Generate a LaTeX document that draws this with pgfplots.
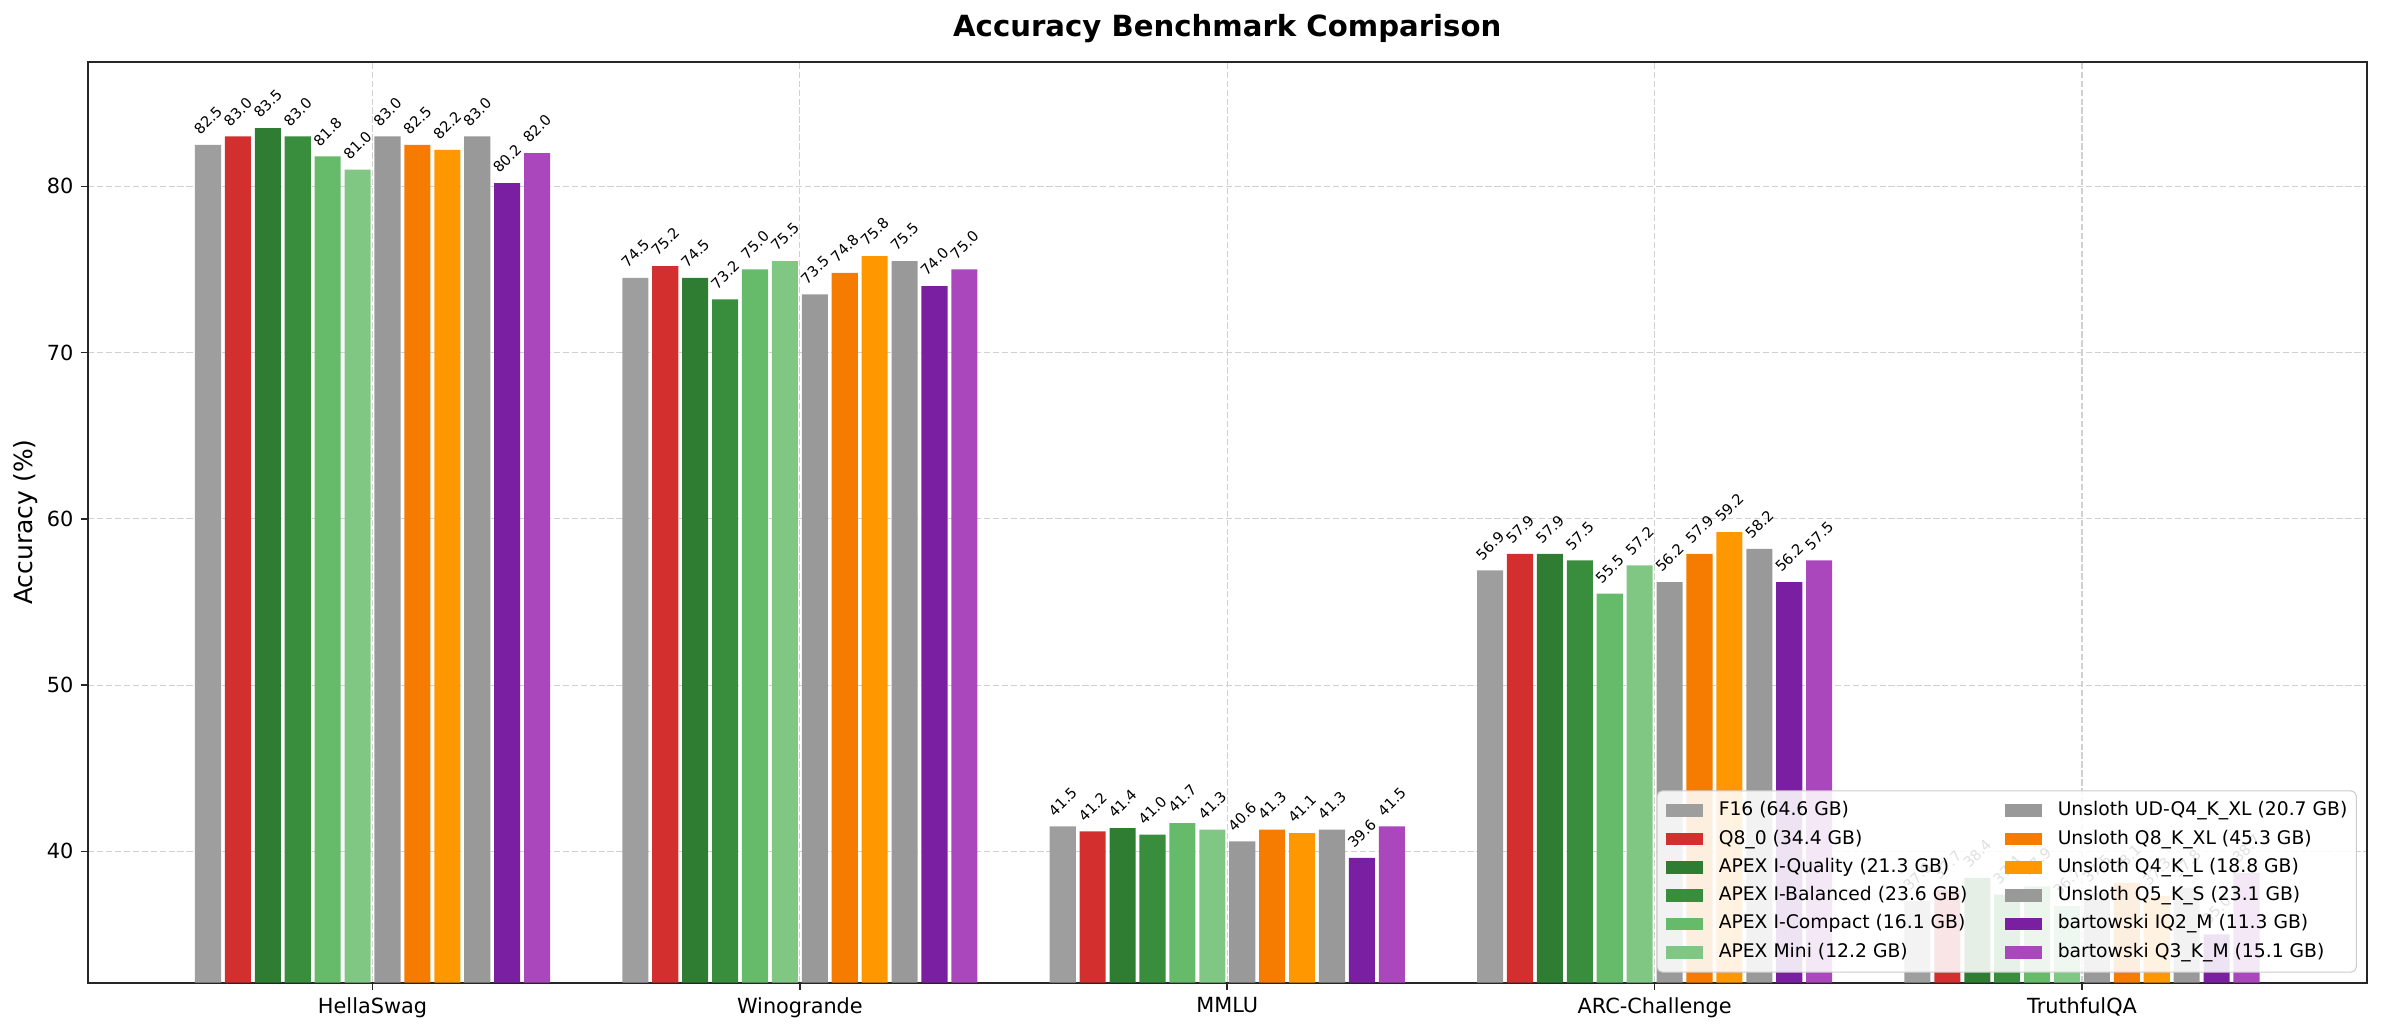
\documentclass[border=0pt]{standalone}
\usepackage{fontspec}
\setmainfont{DejaVu Sans}
\usepackage{graphicx}
\usepackage{pgfplots}
\usepackage{pgfplotstable}
\pgfplotsset{compat=1.18}

\definecolor{cF16}{HTML}{9E9E9E}
\definecolor{cQ80}{HTML}{D32F2F}
\definecolor{cIQ}{HTML}{2E7D32}
\definecolor{cIB}{HTML}{388E3C}
\definecolor{cIC}{HTML}{66BB6A}
\definecolor{cMini}{HTML}{81C784}
\definecolor{cUDQ}{HTML}{999999}
\definecolor{cQ8K}{HTML}{F57C00}
\definecolor{cQ4K}{HTML}{FF9800}
\definecolor{cQ5K}{HTML}{999999}
\definecolor{cIQ2}{HTML}{7B1FA2}
\definecolor{cQ3K}{HTML}{AB47BC}

\pgfplotstableread{
x F16  Q80  IQ   IB   IC   Mini UDQ  Q8K  Q4K  Q5K  IQ2  Q3K
0 82.5 83.0 83.5 83.0 81.8 81.0 83.0 82.5 82.2 83.0 80.2 82.0
1 74.5 75.2 74.5 73.2 75.0 75.5 73.5 74.8 75.8 75.5 74.0 75.0
2 41.5 41.2 41.4 41.0 41.7 41.3 40.6 41.3 41.1 41.3 39.6 41.5
3 56.9 57.9 57.9 57.5 55.5 57.2 56.2 57.9 59.2 58.2 56.2 57.5
4 37.0 37.7 38.4 37.4 37.9 36.7 37.5 38.1 37.3 37.8 35.0 38.7
}\datatable

\begin{document}
\begin{tikzpicture}
\begin{axis}[
  scale only axis, width=1093.8pt, height=442.1pt,
  ybar, bar width=0.061,
  xmin=-0.666, xmax=4.666, ymin=32.1, ymax=87.5,
  xtick={0,1,2,3,4},
  xticklabels={HellaSwag,Winogrande,MMLU,ARC-Challenge,TruthfulQA},
  ytick={40,50,60,70,80},
  tick pos=left, tick align=outside, major tick length=3.5pt,
  tick style={black!85, line width=0.8pt},
  axis line style={black!85, line width=1pt},
  grid=major,
  major grid style={black!18, line width=0.5pt, dash pattern=on 3pt off 1.3pt},
  /pgf/number format/assume math mode=true,
  tick label style={font=\fontsize{10}{12}\selectfont},
  ylabel={Accuracy (\%)},
  every axis y label/.style={font=\fontsize{12}{14}\selectfont, at={(axis description cs:-0.0275,0.5)}, rotate=90, anchor=center},
  title={Accuracy Benchmark Comparison},
  every axis title/.style={font=\bfseries\fontsize{14}{16}\selectfont, at={(axis description cs:0.5,1)}, anchor=base, yshift=12.1pt},
  nodes near coords={\rotatebox{45}{\pgfmathprintnumber[fixed,fixed zerofill,precision=1]{\pgfplotspointmeta}}},
  every node near coord/.append style={anchor=south, inner sep=0pt, yshift=4.2pt, font=\fontsize{7}{8}\selectfont, text=black},
  legend columns=2,
  legend cell align=left,
  legend image code/.code={\fill[#1, sharp corners, fill opacity=1, draw=none] (0pt,-3pt) rectangle (17.8pt,3pt);},
  legend style={at={(axis description cs:0.9957,0.0109)}, anchor=south east,
    draw=black!20, line width=0.5pt, rounded corners=2.5pt,
    fill=white, fill opacity=0.88, draw opacity=1, text opacity=1,
    font=\fontsize{9}{10.8}\selectfont,
    inner xsep=4.3pt, inner ysep=5.1pt, row sep=4.8pt,
    nodes={inner sep=0pt, text height=6.8pt, text depth=2pt},
    /tikz/every odd column/.append style={column sep=7.5pt},
    /tikz/every even column/.append style={column sep=18pt}},
]
\addplot[fill=cF16, draw=none, bar shift=-0.385] table[x=x,y=F16]{\datatable};
\addlegendentry{F16 (64.6 GB)}
\addplot[fill=cUDQ, draw=none, bar shift=0.035] table[x=x,y=UDQ]{\datatable};
\addlegendentry{Unsloth UD-Q4\_K\_XL (20.7 GB)}
\addplot[fill=cQ80, draw=none, bar shift=-0.315] table[x=x,y=Q80]{\datatable};
\addlegendentry{Q8\_0 (34.4 GB)}
\addplot[fill=cQ8K, draw=none, bar shift=0.105] table[x=x,y=Q8K]{\datatable};
\addlegendentry{Unsloth Q8\_K\_XL (45.3 GB)}
\addplot[fill=cIQ, draw=none, bar shift=-0.245] table[x=x,y=IQ]{\datatable};
\addlegendentry{APEX I-Quality (21.3 GB)}
\addplot[fill=cQ4K, draw=none, bar shift=0.175] table[x=x,y=Q4K]{\datatable};
\addlegendentry{Unsloth Q4\_K\_L (18.8 GB)}
\addplot[fill=cIB, draw=none, bar shift=-0.175] table[x=x,y=IB]{\datatable};
\addlegendentry{APEX I-Balanced (23.6 GB)}
\addplot[fill=cQ5K, draw=none, bar shift=0.245] table[x=x,y=Q5K]{\datatable};
\addlegendentry{Unsloth Q5\_K\_S (23.1 GB)}
\addplot[fill=cIC, draw=none, bar shift=-0.105] table[x=x,y=IC]{\datatable};
\addlegendentry{APEX I-Compact (16.1 GB)}
\addplot[fill=cIQ2, draw=none, bar shift=0.315] table[x=x,y=IQ2]{\datatable};
\addlegendentry{bartowski IQ2\_M (11.3 GB)}
\addplot[fill=cMini, draw=none, bar shift=-0.035] table[x=x,y=Mini]{\datatable};
\addlegendentry{APEX Mini (12.2 GB)}
\addplot[fill=cQ3K, draw=none, bar shift=0.385] table[x=x,y=Q3K]{\datatable};
\addlegendentry{bartowski Q3\_K\_M (15.1 GB)}
\end{axis}
\pgfresetboundingbox
\path (current axis.south west) ++(-42.2pt,-24.1pt) rectangle ++(1143.4pt,495.8pt);
\end{tikzpicture}
\end{document}
